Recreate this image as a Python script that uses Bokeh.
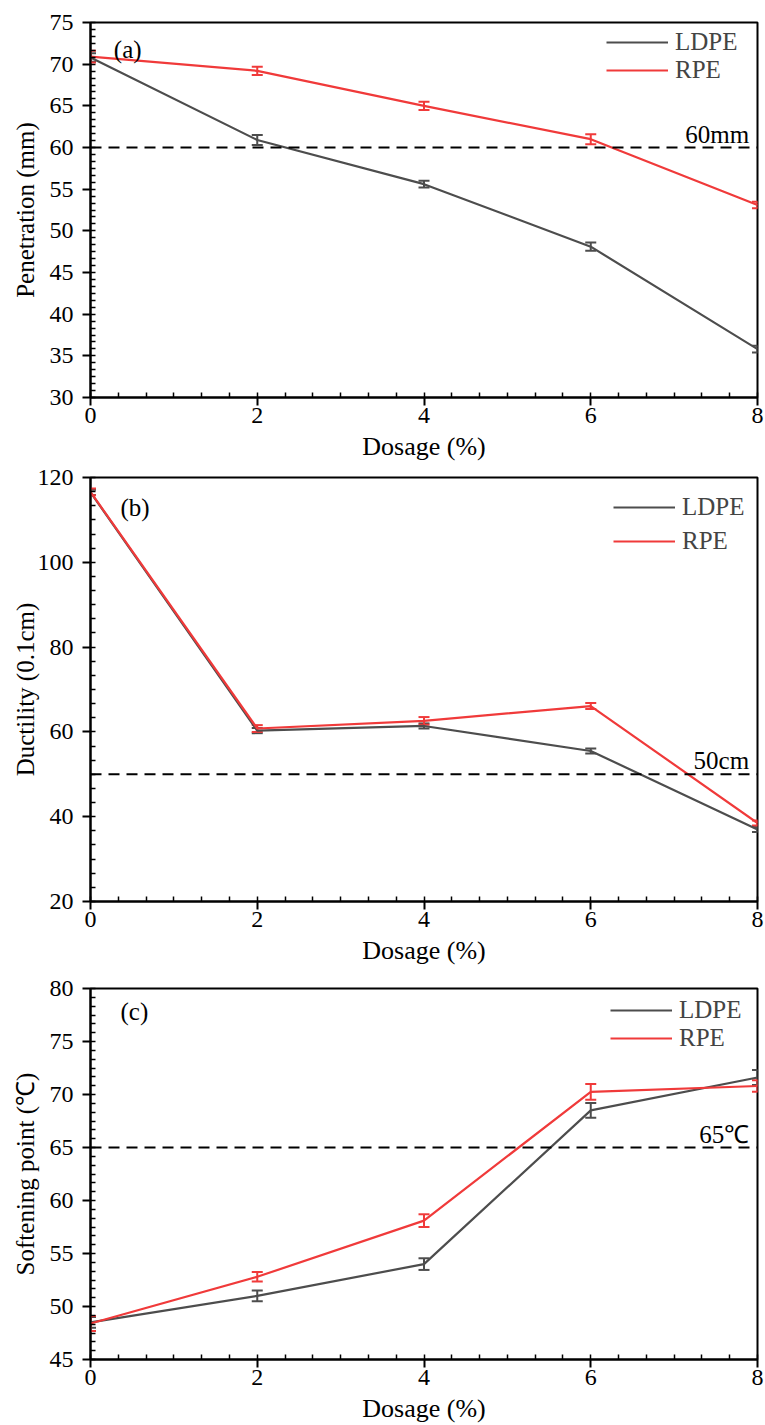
from bokeh.plotting import figure
from bokeh.models import (ColumnDataSource, Whisker, Span, Label, Legend, LegendItem,
                          TeeHead, FixedTicker, Range1d)
from bokeh.layouts import column
from bokeh.embed import file_html
from bokeh.resources import INLINE

# ---------------- data ----------------
dosage = [0, 2, 4, 6, 8]

pen_ldpe = [70.8, 60.9, 55.6, 48.1, 35.8]
pen_ldpe_err = [0.5, 0.6, 0.4, 0.5, 0.4]
pen_rpe = [70.9, 69.2, 65.0, 61.0, 53.1]
pen_rpe_err = [0.7, 0.5, 0.5, 0.6, 0.4]

duct_ldpe = [116.5, 60.3, 61.4, 55.5, 37.0]
duct_ldpe_err = [0.6, 0.6, 0.6, 0.6, 0.6]
duct_rpe = [116.6, 60.8, 62.6, 66.1, 38.5]
duct_rpe_err = [0.8, 0.8, 0.9, 0.7, 0.6]

soft_ldpe = [48.5, 51.0, 54.0, 68.5, 71.6]
soft_ldpe_err = [0.5, 0.5, 0.55, 0.7, 0.7]
soft_rpe = [48.4, 52.8, 58.1, 70.25, 70.8]
soft_rpe_err = [0.7, 0.45, 0.6, 0.75, 0.55]

series_names = ["LDPE", "RPE"]
x_label = "Dosage (%)"

FONT = "Liberation Serif"
C_LDPE = "#4d4d4d"
C_RPE = "#f03a3a"


def ticks(lo, hi, step, nminor):
    major = []
    minor = []
    n = int(round((hi - lo) / step))
    for i in range(n + 1):
        major.append(lo + i * step)
    for i in range(n * nminor + 1):
        minor.append(lo + i * step / nminor)
    return FixedTicker(ticks=major, minor_ticks=minor)


def make_panel(ldpe, ldpe_err, rpe, rpe_err, yr, yint, ylabel, tag, tag_xy,
               thr, thr_text, height, b_top, b_bottom, leg_loc, leg_h, ylab_standoff):
    p = figure(width=765, height=height, output_backend="svg", toolbar_location=None,
               x_range=Range1d(0, 8), y_range=Range1d(*yr),
               min_border_left=90, min_border_right=8,
               min_border_top=b_top, min_border_bottom=b_bottom,
               background_fill_color="white", border_fill_color="white")
    p.grid.visible = False
    p.outline_line_color = "black"
    p.outline_line_width = 2
    p.xaxis.ticker = ticks(0, 8, 2, 6)
    p.yaxis.ticker = ticks(yr[0], yr[1], yint, 6)
    for ax in (p.xaxis[0], p.yaxis[0]):
        ax.axis_line_width = 2
        ax.axis_line_color = "black"
        ax.major_tick_line_width = 2
        ax.major_tick_line_color = "black"
        ax.minor_tick_line_width = 1.5
        ax.minor_tick_line_color = "black"
        ax.major_tick_out = 8
        ax.major_tick_in = 0
        ax.minor_tick_out = 0
        ax.minor_tick_in = 5
        ax.major_label_text_font = FONT
        ax.major_label_text_font_size = "24px"
        ax.major_label_text_color = "black"
        ax.axis_label_text_font = FONT
        ax.axis_label_text_font_style = "normal"
        ax.axis_label_text_color = "black"
    p.xaxis.axis_label = x_label
    p.yaxis.axis_label = ylabel
    p.xaxis.axis_label_text_font_size = "26px"
    p.yaxis.axis_label_text_font_size = "25px"
    p.xaxis.major_label_standoff = 2
    p.yaxis.major_label_standoff = 9
    p.xaxis.axis_label_standoff = 6
    p.yaxis.axis_label_standoff = ylab_standoff

    p.add_layout(Span(location=thr, dimension="width", line_color="black",
                      line_width=2, line_dash="11 7"))

    items = []
    for vals, errs, color, name in ((ldpe, ldpe_err, C_LDPE, series_names[0]),
                                    (rpe, rpe_err, C_RPE, series_names[1])):
        src = ColumnDataSource(dict(x=dosage, y=vals,
                                    upper=[v + e for v, e in zip(vals, errs)],
                                    lower=[v - e for v, e in zip(vals, errs)]))
        r = p.line("x", "y", source=src, line_color=color, line_width=2.2)
        w = Whisker(base="x", upper="upper", lower="lower", source=src,
                    dimension="height", line_color=color, line_width=2,
                    upper_head=TeeHead(size=11, line_color=color, line_width=2),
                    lower_head=TeeHead(size=11, line_color=color, line_width=2))
        p.add_layout(w)
        items.append(LegendItem(label=name, renderers=[r]))

    leg = Legend(items=items, location=leg_loc, border_line_color=None,
                 background_fill_alpha=0, label_text_font=FONT,
                 label_text_font_size="25px", glyph_width=62, glyph_height=leg_h,
                 label_height=leg_h, label_standoff=7, spacing=0, padding=2,
                 margin=0)
    p.add_layout(leg)

    p.add_layout(Label(x=tag_xy[0], y=tag_xy[1], text=tag, text_font=FONT,
                       text_font_size="25px", text_baseline="middle",
                       text_align="left", text_color="black"))
    p.add_layout(Label(x=7.9, y=thr, text=thr_text, text_font=FONT,
                       text_font_size="25px", text_baseline="bottom",
                       text_align="right", y_offset=0, text_color="black"))
    return p


pa = make_panel(pen_ldpe, pen_ldpe_err, pen_rpe, pen_rpe_err, (30, 75), 5,
                "Penetration (mm)", "(a)", (0.28, 71.8), 60, "60mm",
                463, 22, 66, (516, 313), 28, 8)
pb = make_panel(duct_ldpe, duct_ldpe_err, duct_rpe, duct_rpe_err, (20, 120), 20,
                "Ductility (0.1cm)", "(b)", (0.36, 113), 50, "50cm",
                504, 14, 66, (523, 343), 34, -4)
pc = make_panel(soft_ldpe, soft_ldpe_err, soft_rpe, soft_rpe_err, (45, 80), 5,
                "Softening point (℃)", "(c)", (0.36, 77.8), 65, "65℃",
                458, 21, 66, (520, 307), 28, 8)

layout = column(pa, pb, pc, spacing=0)
open("out.html", "w").write(file_html(layout, INLINE))
